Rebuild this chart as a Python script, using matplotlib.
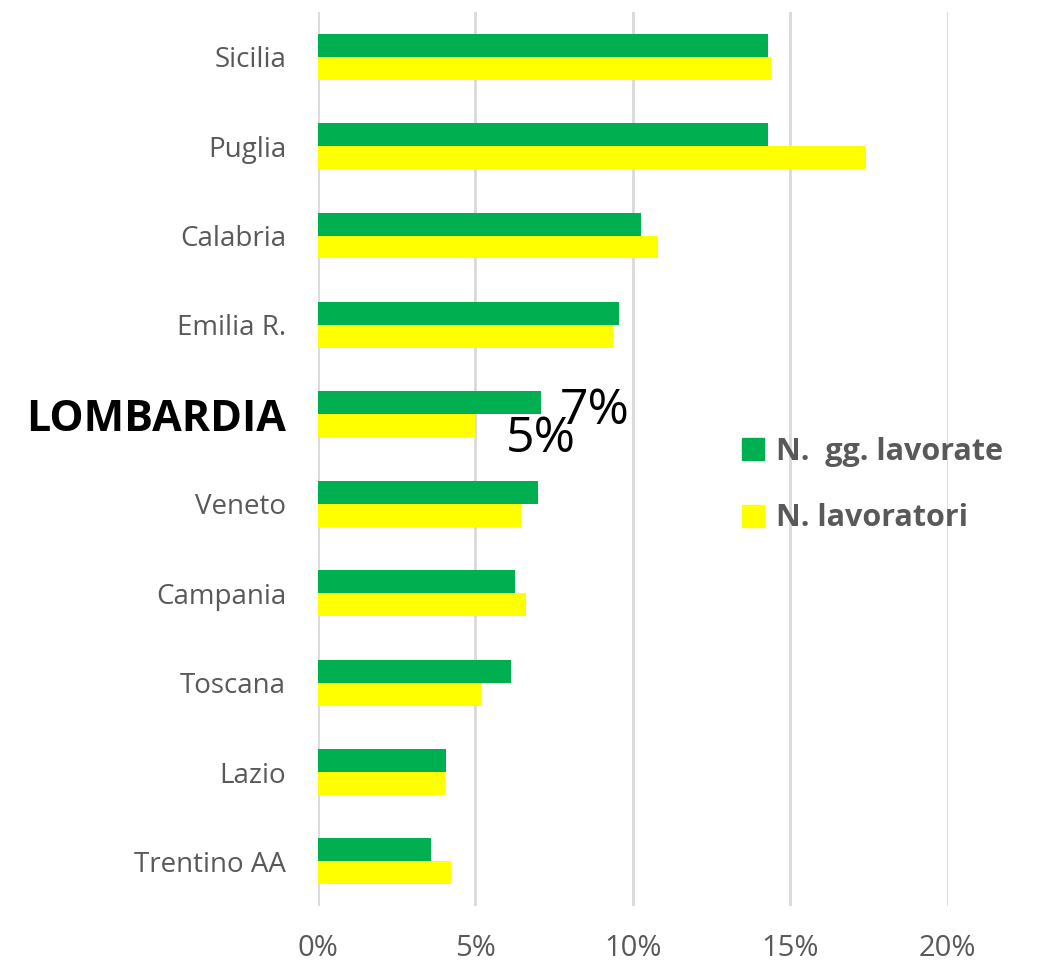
import matplotlib
matplotlib.use("Agg")
import matplotlib.pyplot as plt
from matplotlib.ticker import FuncFormatter
from matplotlib.lines import Line2D

regions = ["Sicilia", "Puglia", "Calabria", "Emilia R.", "LOMBARDIA",
           "Veneto", "Campania", "Toscana", "Lazio", "Trentino AA"]
gg_lavorate = [0.143, 0.143, 0.1025, 0.0955, 0.0708, 0.0698, 0.0625, 0.0613, 0.0406, 0.0359]
lavoratori = [0.144, 0.174, 0.108, 0.0937, 0.0498, 0.0644, 0.066, 0.0517, 0.0403, 0.0422]
series_names = ["N.  gg. lavorate", "N. lavoratori"]
colors = ["#00B050", "#FFFF00"]
xticks = [0, 0.05, 0.10, 0.15, 0.20]

plt.rcParams['font.family'] = ['Open Sans', 'DejaVu Sans']

fig = plt.figure(figsize=(10.46, 9.64), dpi=100)
ax = fig.add_axes([0.304, 0.060, 0.602, 0.9276])

h = 0.257
pos = list(range(len(regions)))
ax.barh([p - h / 2 for p in pos], gg_lavorate, height=h, color=colors[0], zorder=3)
ax.barh([p + h / 2 for p in pos], lavoratori, height=h, color=colors[1], zorder=3)

ax.set_ylim(len(regions) - 0.5, -0.5)
ax.set_xlim(0, 0.20)
ax.set_xticks(xticks)
ax.xaxis.set_major_formatter(FuncFormatter(lambda v, _: f"{v*100:.0f}%"))
ax.grid(axis='x', color='#D9D9D9', linewidth=2, zorder=0)
for s in ax.spines.values():
    s.set_visible(False)
ax.tick_params(length=0, labelsize=20, colors='#595959')
ax.tick_params(axis='y', pad=23)
ax.tick_params(axis='x', labelsize=21, pad=20)
ax.set_yticks(pos)
ax.set_yticklabels(regions)
for lbl in ax.get_yticklabels():
    if lbl.get_text() == "LOMBARDIA":
        lbl.set_fontsize(31)
        lbl.set_fontweight('bold')
        lbl.set_color('black')

li = regions.index("LOMBARDIA")
ax.text(0.0768, li - 0.03, f"{gg_lavorate[li]*100:.0f}%", fontsize=36, color='black',
        va='center', ha='left', zorder=5)
ax.text(0.0597, li + 0.28, f"{lavoratori[li]*100:.0f}%", fontsize=36, color='black',
        va='center', ha='left', zorder=5)

handles = [Line2D([0], [0], marker='s', linestyle='none', markersize=16,
                  markerfacecolor=c, markeredgecolor=c) for c in colors]
leg = fig.legend(handles, series_names, loc='center left', bbox_to_anchor=(0.682, 0.497),
                 frameon=False, handlelength=0.8, handletextpad=0.35, labelspacing=1.2,
                 prop={'weight': 'bold', 'size': 22})
for t in leg.get_texts():
    t.set_color('#595959')

fig.savefig("out.png", dpi=100)
